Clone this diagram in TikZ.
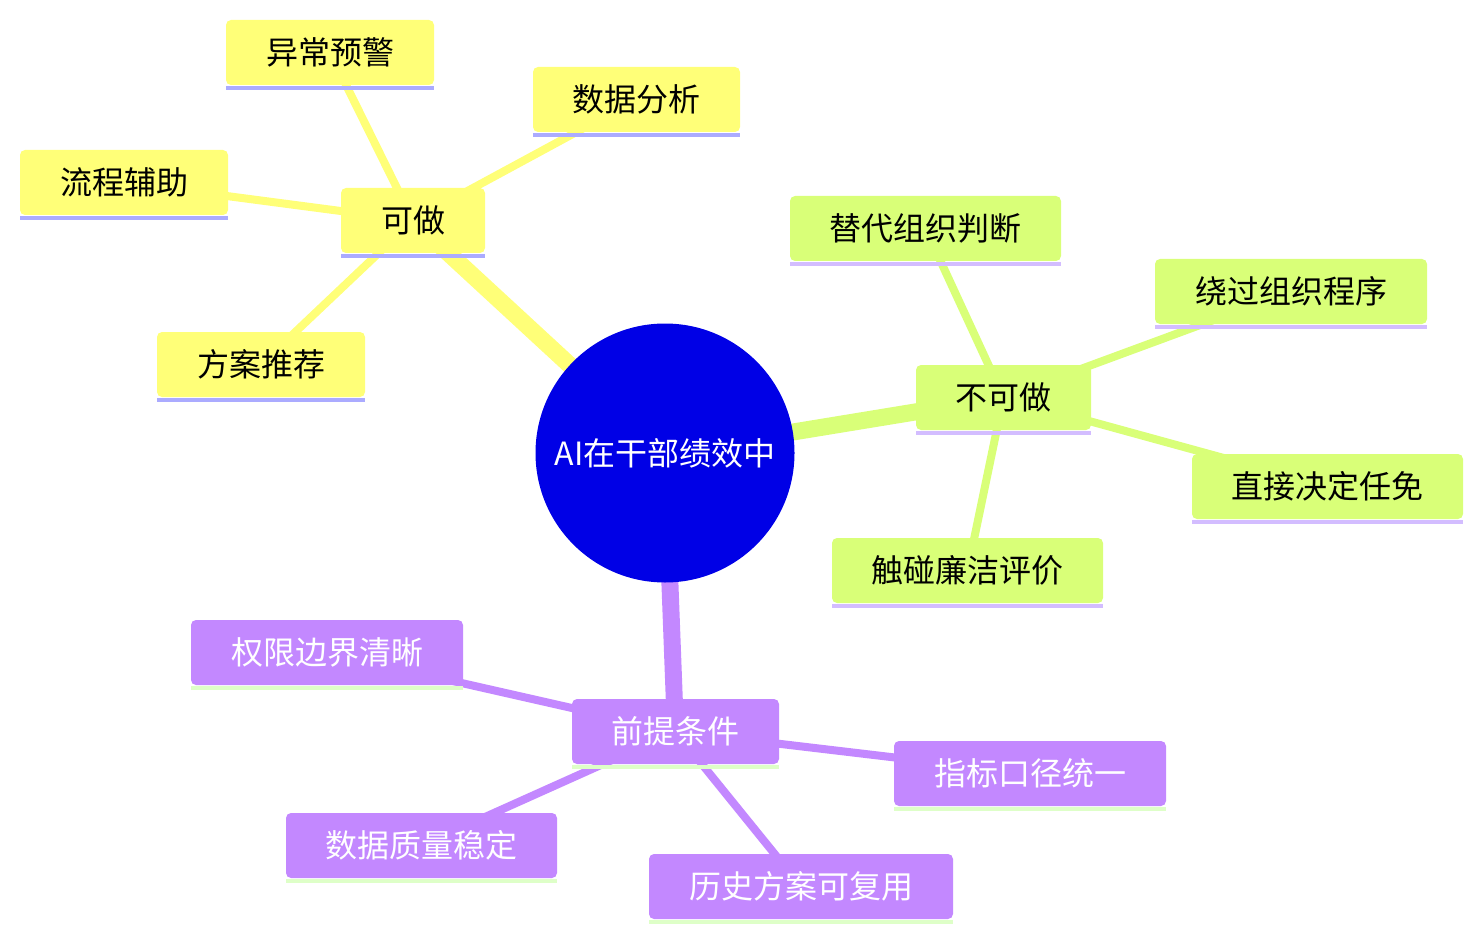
\documentclass[tikz,border=0pt]{standalone}
\usepackage{fontspec}
\setmainfont{Noto Sans CJK SC}
\usetikzlibrary{backgrounds}
\definecolor{cyel}{HTML}{FFFF78}
\definecolor{cyelu}{HTML}{ABABFF}
\definecolor{cgrn}{HTML}{D9FF78}
\definecolor{cgrnu}{HTML}{D3BDFF}
\definecolor{cpur}{HTML}{C388FF}
\definecolor{cpuru}{HTML}{DEFFC8}
\definecolor{croot}{HTML}{0000E6}
\begin{document}
\begin{tikzpicture}[x=1pt,y=-1pt,
  box/.style={rounded corners=5pt,minimum height=65pt,inner sep=0pt,font=\fontsize{32}{38}\selectfont},
  yel/.style={box,fill=cyel,text=black},
  grn/.style={box,fill=cgrn,text=black},
  pur/.style={box,fill=cpur,text=white},
  mainedge/.style={line width=17pt},
  subedge/.style={line width=8pt},
]
\useasboundingbox (0,0) rectangle (1483,941);
\node[circle,fill=croot,minimum size=259pt,inner sep=0pt,text=white,font=\fontsize{32}{38}\selectfont] (root) at (665,453) {AI在干部绩效中};
% nodes: center x = left + w/2, center y = top + 32.5
\newcommand{\bx}[6]{% name, style, left, top, width, text
  \node[#2,minimum width=#5pt] (#1) at ({#3+#5/2},{#4+32.5}) {\raisebox{-2pt}{#6}};
}
\bx{kz}{yel}{341}{188}{144}{可做}
\bx{yc}{yel}{226}{20}{208}{异常预警}
\bx{sj}{yel}{533}{67}{207}{数据分析}
\bx{lc}{yel}{20}{150}{208}{流程辅助}
\bx{fa}{yel}{157}{332}{208}{方案推荐}
\bx{bk}{grn}{916}{365}{175}{不可做}
\bx{td}{grn}{790}{196}{271}{替代组织判断}
\bx{rg}{grn}{1155}{259}{272}{绕过组织程序}
\bx{zj}{grn}{1192}{454}{271}{直接决定任免}
\bx{cp}{grn}{832}{538}{271}{触碰廉洁评价}
\bx{qt}{pur}{572}{699}{207}{前提条件}
\bx{qx}{pur}{191}{620}{272}{权限边界清晰}
\bx{zb}{pur}{894}{741}{272}{指标口径统一}
\bx{sz}{pur}{286}{813}{271}{数据质量稳定}
\bx{ls}{pur}{649}{854}{304}{历史方案可复用}
% underlines
\foreach \n in {kz,yc,sj,lc,fa} \fill[cyelu] ([yshift=-0.5pt]\n.south west) rectangle ([yshift=-5pt]\n.south east);
\foreach \n in {bk,td,rg,zj,cp} \fill[cgrnu] ([yshift=-0.5pt]\n.south west) rectangle ([yshift=-5pt]\n.south east);
\foreach \n in {qt,qx,zb,sz,ls} \fill[cpuru] ([yshift=-0.5pt]\n.south west) rectangle ([yshift=-5pt]\n.south east);
\begin{pgfonlayer}{background}
\draw[mainedge,cyel] (root.center) -- (kz.center);
\draw[mainedge,cgrn] (root.center) -- (bk.center);
\draw[mainedge,cpur] (root.center) -- (qt.center);
\foreach \n in {yc,sj,lc,fa} \draw[subedge,cyel] (kz.center) -- (\n.center);
\foreach \n in {td,rg,zj,cp} \draw[subedge,cgrn] (bk.center) -- (\n.center);
\foreach \n in {qx,zb,sz,ls} \draw[subedge,cpur] (qt.center) -- (\n.center);
\end{pgfonlayer}
\end{tikzpicture}
\end{document}
